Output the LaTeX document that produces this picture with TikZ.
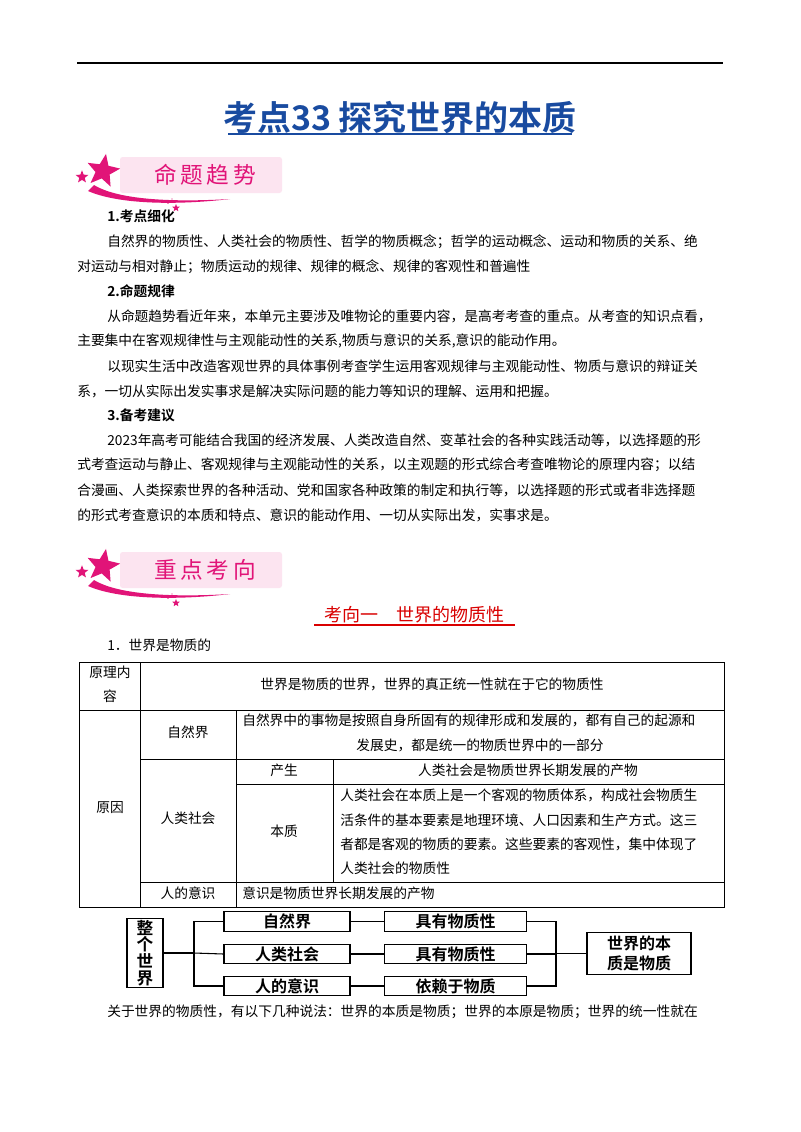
\documentclass[tikz,border=0pt]{standalone}
\usepackage{fontspec}
\setmainfont{Noto Sans CJK SC}
\newfontfamily\cjkb{Noto Sans CJK SC Bold}
\usetikzlibrary{shapes.geometric}
\XeTeXlinebreaklocale "zh"
\XeTeXlinebreakskip=0pt plus 3pt minus 0.5pt
\definecolor{titleblue}{RGB}{25,75,160}
\definecolor{mag}{RGB}{225,20,120}
\definecolor{pinkbg}{RGB}{252,228,240}
\newcommand{\jl}[2]{\hbox to #1{#2}}
\tikzset{
 x=0.75pt,y=-0.75pt,
 body/.style={inner sep=0pt,anchor=west,font=\fontsize{10.3}{12}\selectfont},
 cell/.style={inner sep=0pt,font=\fontsize{10.3}{12}\selectfont},
 tline/.style={line width=0.6pt},
 dbox/.style={draw,line width=0.8pt,minimum height=14.5pt,font=\cjkb\fontsize{12}{13}\selectfont,inner sep=1pt},
 conn/.style={line width=0.8pt},
 banner/.style={fill=pinkbg,rounded corners=2pt},
}
\newcommand{\bannerpic}[3]{%
 \fill[banner] (120,#1-18) rectangle (282,#1+18);
 \node[inner sep=0pt,text=mag,font=\fontsize{17}{18}\selectfont] (#3) at (205,#1) {#2};
 \fill[mag] (88,#1+16) .. controls (120,#1+30) and (180,#1+30) .. (230,#1+24) .. controls (180,#1+27) and (120,#1+26) .. (94,#1+10) -- cycle;
 \node[star,star points=5,star point ratio=2.3,fill=mag,minimum size=26pt,inner sep=0pt,rotate=-10] (#3s1) at (103,#1-4) {};
 \node[star,star points=5,star point ratio=2.3,fill=mag,minimum size=10pt,inner sep=0pt] (#3s2) at (82,#1+2) {};
 \node[star,star points=5,star point ratio=2.3,fill=mag,minimum size=6pt,inner sep=0pt] (#3s3) at (176,#1+33) {};
 \fill[mag] (168,#1+28) circle (0.8) (172,#1+24) circle (0.6) (160,#1+27) circle (0.6);
}
\begin{document}
\begin{tikzpicture}
\useasboundingbox (0,0) rectangle (800,1132);
\fill[white] (0,0) rectangle (800,1132);
\draw[line width=0.8pt] (77,63) -- (723,63);
\node[inner sep=0pt,text=titleblue,font=\cjkb\fontsize{25.5}{26}\selectfont] (title) at (400,118) {考点33\ 探究世界的本质};
\draw[titleblue,line width=1pt] (228,134) -- (572,134);

\bannerpic{175}{命\,题\,趋\,势}{b1}

\node[body,font=\cjkb\fontsize{10.3}{12}\selectfont] (h1) at (107,216) {1.考点细化};
\node[body] (p1a) at (107,242) {\jl{616\dimexpr0.75pt}{自然界的物质性、人类社会的物质性、哲学的物质概念；哲学的运动概念、运动和物质的关系、绝}};
\node[body] (p1b) at (77,267) {对运动与相对静止；物质运动的规律、规律的概念、规律的客观性和普遍性};
\node[body,font=\cjkb\fontsize{10.3}{12}\selectfont] (h2) at (107,291) {2.命题规律};
\node[body] (p2a) at (107,316) {\jl{616\dimexpr0.75pt}{从命题趋势看近年来，本单元主要涉及唯物论的重要内容，是高考考查的重点。从考查的知识点看，}};
\node[body] (p2b) at (77,341) {主要集中在客观规律性与主观能动性的关系,物质与意识的关系,意识的能动作用。};
\node[body] (p2c) at (107,366) {\jl{616\dimexpr0.75pt}{以现实生活中改造客观世界的具体事例考查学生运用客观规律与主观能动性、物质与意识的辩证关}};
\node[body] (p2d) at (77,391) {系，一切从实际出发实事求是解决实际问题的能力等知识的理解、运用和把握。};
\node[body,font=\cjkb\fontsize{10.3}{12}\selectfont] (h3) at (107,415) {3.备考建议};
\node[body] (p3a) at (107,440) {\jl{616\dimexpr0.75pt}{2023年高考可能结合我国的经济发展、人类改造自然、变革社会的各种实践活动等，以选择题的形}};
\node[body] (p3b) at (77,465) {\jl{646\dimexpr0.75pt}{式考查运动与静止、客观规律与主观能动性的关系，以主观题的形式综合考查唯物论的原理内容；以结}};
\node[body] (p3c) at (77,490) {\jl{646\dimexpr0.75pt}{合漫画、人类探索世界的各种活动、党和国家各种政策的制定和执行等，以选择题的形式或者非选择题}};
\node[body] (p3d) at (77,515) {的形式考查意识的本质和特点、意识的能动作用、一切从实际出发，实事求是。};

\bannerpic{570}{重\,点\,考\,向}{b2}

\node[inner sep=0pt,text=red!85!black,font=\fontsize{13.5}{14}\selectfont] (kx) at (414,615) {考向一\quad 世界的物质性};
\draw[red!85!black,line width=0.8pt] (314,625) -- (515,625);
\node[body] (s1) at (107,645) {1．世界是物质的};

% table
\draw[tline] (79,662) rectangle (724,907);
\draw[tline] (79,710) -- (724,710);
\draw[tline] (140,662) -- (140,907);
\draw[tline] (140,759) -- (724,759);
\draw[tline] (236,710) -- (236,907);
\draw[tline] (236,784) -- (724,784);
\draw[tline] (333,759) -- (333,882);
\draw[tline] (140,882) -- (724,882);
\node[cell,align=center,font=\fontsize{10.3}{18}\selectfont] (c11) at (110,684) {原理内\\容};
\node[cell] (c12) at (432,684) {世界是物质的世界，世界的真正统一性就在于它的物质性};
\node[cell] (c21) at (110,808) {原因};
\node[cell] (c22) at (188,732) {自然界};
\node[cell,anchor=west] (c23a) at (242,720) {\jl{476\dimexpr0.75pt}{自然界中的事物是按照自身所固有的规律形成和发展的，都有自己的起源和}};
\node[cell] (c23b) at (480,745) {发展史，都是统一的物质世界中的一部分};
\node[cell] (c32) at (188,818) {人类社会};
\node[cell] (c33) at (284,770) {产生};
\node[cell] (c34) at (528,770) {人类社会是物质世界长期发展的产物};
\node[cell] (c43) at (284,831) {本质};
\node[cell,anchor=west] (c44a) at (340,795) {\jl{374\dimexpr0.75pt}{人类社会在本质上是一个客观的物质体系，构成社会物质生}};
\node[cell,anchor=west] (c44b) at (340,820) {\jl{374\dimexpr0.75pt}{活条件的基本要素是地理环境、人口因素和生产方式。这三}};
\node[cell,anchor=west] (c44c) at (340,844) {\jl{374\dimexpr0.75pt}{者都是客观的物质的要素。这些要素的客观性，集中体现了}};
\node[cell,anchor=west] (c44d) at (340,868) {人类社会的物质性};
\node[cell] (c52) at (188,893) {人的意识};
\node[cell,anchor=west] (c53) at (242,893) {意识是物质世界长期发展的产物};

% diagram
\node[draw,line width=0.8pt,minimum width=27pt,minimum height=51pt,inner sep=1pt,align=center,font=\cjkb\fontsize{12.5}{12.5}\selectfont] (w) at (145,953) {整\\个\\世\\界};
\node[dbox,minimum width=94.5pt] (n1) at (287,921.5) {自然界};
\node[dbox,minimum width=94.5pt] (n2) at (287,954) {人类社会};
\node[dbox,minimum width=94.5pt] (n3) at (287,986) {人的意识};
\node[dbox,minimum width=107pt] (m1) at (455.5,921.5) {具有物质性};
\node[dbox,minimum width=107pt] (m2) at (455.5,954) {具有物质性};
\node[dbox,minimum width=107pt] (m3) at (455.5,986) {依赖于物质};
\node[draw,line width=0.8pt,minimum width=78pt,minimum height=32pt,align=center,inner sep=1pt,font=\cjkb\fontsize{12}{15}\selectfont] (r) at (639,953.5) {世界的本\\质是物质};
\coordinate (lb) at (194,953);
\draw[conn] (w.east) -- (lb);
\draw[conn] (n1.west) -| (194,953) |- (n3.west);
\draw[conn] (lb) -- (n2.west);
\draw[conn] (n1) -- (m1); \draw[conn] (n2) -- (m2); \draw[conn] (n3) -- (m3);
\coordinate (rb) at (556,953.5);
\draw[conn] (m1.east) -| (rb) |- (m3.east);
\draw[conn] (m2.east) -- (m2.east -| rb);
\draw[conn] (rb) -- (r.west);
\node[body] (last) at (107,1012) {\jl{616\dimexpr0.75pt}{关于世界的物质性，有以下几种说法：世界的本质是物质；世界的本原是物质；世界的统一性就在}};
\end{tikzpicture}
\end{document}
